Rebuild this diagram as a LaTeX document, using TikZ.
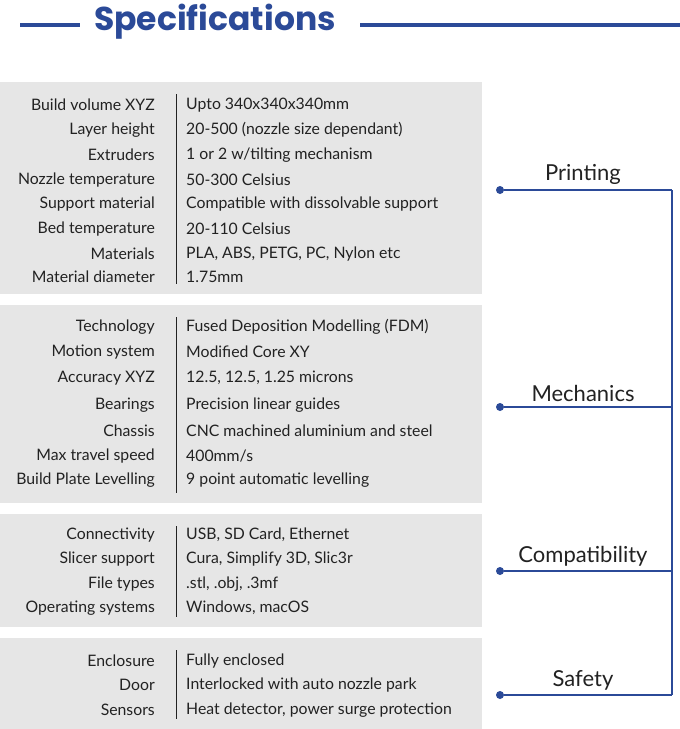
\documentclass[tikz,border=0pt]{standalone}
\usepackage{fontspec}
\setmainfont{Lato}
\newfontfamily\titlefont{Poppins}
\definecolor{specblue}{HTML}{2B4A98}
\definecolor{panelgray}{HTML}{E6E6E6}
\definecolor{txt}{HTML}{222222}
\begin{document}
\begin{tikzpicture}[x=1pt,y=-1pt,
  lab/.style={anchor=east,font=\fontsize{15.8}{17}\selectfont,text=txt,inner sep=0},
  val/.style={anchor=west,font=\fontsize{15.8}{17}\selectfont,text=txt,inner sep=0},
  cat/.style={anchor=south,font=\fontsize{22}{24}\selectfont,text=txt,inner sep=2},
  bl/.style={specblue,line width=2.6pt},
  dot/.style={circle,fill=specblue,inner sep=0,minimum size=8pt}]
\useasboundingbox (0,0) rectangle (680,729);
\fill[white] (0,0) rectangle (680,729);
\node[font=\titlefont\bfseries\fontsize{33}{36}\selectfont,text=specblue,inner sep=0] (title) at (215,22) {Specifications};
\coordinate (tl) at (20,25); \coordinate (tr) at (80,25);
\coordinate (rl) at (360,25); \coordinate (rr) at (680,25);
\draw[bl,line width=3.2pt] (tl) -- (tr);
\draw[bl,line width=3.2pt] (rl) -- (rr);
% panels
\foreach \a/\b in {82/294,305/503,514/627,638/729}{
  \fill[panelgray] (0,\a) rectangle (482,\b);
  \draw[txt,line width=0.9pt] (176,\a+12) -- (176,\b-10);
}
\def\row#1#2#3{\node[lab] at (155,#1) {#2}; \node[val] at (186,#1) {#3};}
\row{105}{Build volume XYZ}{Upto 340x340x340mm}
\row{130}{Layer height}{20-500 (nozzle size dependant)}
\row{155}{Extruders}{1 or 2 w/tilting mechanism}
\row{180}{Nozzle temperature}{50-300 Celsius}
\row{204}{Support material}{Compatible with dissolvable support}
\row{229}{Bed temperature}{20-110 Celsius}
\row{254}{Materials}{PLA, ABS, PETG, PC, Nylon etc}
\row{277}{Material diameter}{1.75mm}
\row{327}{Technology}{Fused Deposition Modelling (FDM)}
\row{352}{Motion system}{Modified Core XY}
\row{378}{Accuracy XYZ}{12.5, 12.5, 1.25 microns}
\row{405}{Bearings}{Precision linear guides}
\row{431}{Chassis}{CNC machined aluminium and steel}
\row{456}{Max travel speed}{400mm/s}
\row{480}{Build Plate Levelling}{9 point automatic levelling}
\row{535}{Connectivity}{USB, SD Card, Ethernet}
\row{559}{Slicer support}{Cura, Simplify 3D, Slic3r}
\row{584}{File types}{.stl, .obj, .3mf}
\row{608}{Operating systems}{Windows, macOS}
\row{661}{Enclosure}{Fully enclosed}
\row{685}{Door}{Interlocked with auto nozzle park}
\row{710}{Sensors}{Heat detector, power surge protection}
% bracket
\coordinate (t1) at (672,190); \coordinate (t4) at (672,695);
\draw[bl] (t1) -- (t4);
\foreach \y/\n/\t in {190/p/Printing,407/m/Mechanics,571/c/Compatibility,695/s/Safety}{
  \node[dot] (d\n) at (500,\y) {};
  \coordinate (e\n) at (672,\y);
  \draw[bl] (d\n) -- (e\n);
  \node[cat] at (583,\y-3) {\t};
}
\end{tikzpicture}
\end{document}
